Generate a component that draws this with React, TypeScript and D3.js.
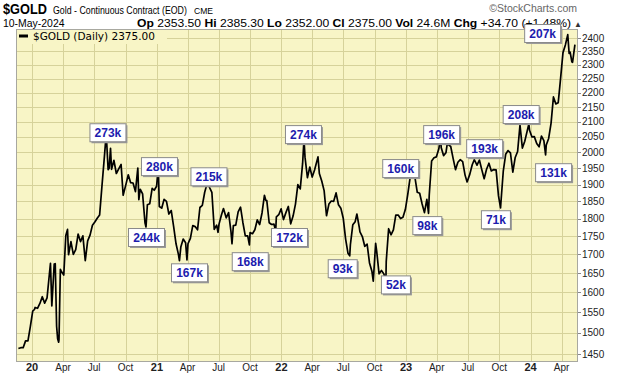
import React from 'react';
import * as d3 from 'd3';

const W = 620;
const H = 376;
const PLOT = { left: 16, right: 578, top: 29, bottom: 362 };

// Gold continuous contract closes
const goldDaily: [string, number][] = [
  ['2019-11-22', 1463], ['2019-11-29', 1465], ['2019-12-06', 1465], ['2019-12-13', 1481], ['2019-12-20', 1481], ['2019-12-27', 1515],
  ['2020-01-03', 1553], ['2020-01-08', 1557], ['2020-01-10', 1562], ['2020-01-17', 1560], ['2020-01-24', 1572], ['2020-01-31', 1589],
  ['2020-02-07', 1573], ['2020-02-14', 1586], ['2020-02-21', 1649], ['2020-02-24', 1676], ['2020-02-28', 1566], ['2020-03-06', 1674],
  ['2020-03-09', 1675], ['2020-03-13', 1516], ['2020-03-16', 1486], ['2020-03-19', 1478], ['2020-03-20', 1484], ['2020-03-24', 1660],
  ['2020-03-27', 1654], ['2020-04-03', 1645], ['2020-04-09', 1752], ['2020-04-14', 1769], ['2020-04-17', 1699], ['2020-04-24', 1735],
  ['2020-05-01', 1700], ['2020-05-08', 1713], ['2020-05-15', 1756], ['2020-05-22', 1735], ['2020-05-29', 1751], ['2020-06-05', 1683],
  ['2020-06-12', 1737], ['2020-06-19', 1753], ['2020-06-26', 1781], ['2020-07-03', 1790], ['2020-07-10', 1801], ['2020-07-17', 1810],
  ['2020-07-24', 1897], ['2020-07-31', 1986], ['2020-08-06', 2069], ['2020-08-07', 2028], ['2020-08-11', 1946], ['2020-08-14', 1950],
  ['2020-08-18', 2013], ['2020-08-21', 1947], ['2020-08-28', 1975], ['2020-09-04', 1934], ['2020-09-11', 1948], ['2020-09-18', 1962],
  ['2020-09-24', 1868], ['2020-10-02', 1900], ['2020-10-09', 1930], ['2020-10-16', 1906], ['2020-10-23', 1905], ['2020-10-30', 1879],
  ['2020-11-06', 1951], ['2020-11-09', 1855], ['2020-11-13', 1886], ['2020-11-20', 1872], ['2020-11-27', 1788], ['2020-11-30', 1776],
  ['2020-12-04', 1840], ['2020-12-11', 1843], ['2020-12-18', 1889], ['2020-12-24', 1883], ['2020-12-31', 1895],
  ['2021-01-05', 1954], ['2021-01-08', 1835], ['2021-01-15', 1830], ['2021-01-22', 1856], ['2021-01-29', 1850], ['2021-02-05', 1813],
  ['2021-02-12', 1823], ['2021-02-19', 1777], ['2021-02-26', 1729], ['2021-03-05', 1700], ['2021-03-08', 1683], ['2021-03-12', 1720],
  ['2021-03-19', 1742], ['2021-03-26', 1732], ['2021-03-30', 1685], ['2021-04-02', 1729], ['2021-04-09', 1744], ['2021-04-16', 1780],
  ['2021-04-23', 1777], ['2021-04-30', 1768], ['2021-05-07', 1832], ['2021-05-14', 1838], ['2021-05-21', 1877], ['2021-05-28', 1903],
  ['2021-06-01', 1905], ['2021-06-04', 1892], ['2021-06-11', 1877], ['2021-06-18', 1769], ['2021-06-25', 1781], ['2021-06-29', 1761],
  ['2021-07-02', 1784], ['2021-07-09', 1810], ['2021-07-15', 1829], ['2021-07-23', 1802], ['2021-07-30', 1817], ['2021-08-06', 1763],
  ['2021-08-09', 1729], ['2021-08-13', 1780], ['2021-08-20', 1781], ['2021-08-27', 1819], ['2021-09-03', 1833], ['2021-09-10', 1788],
  ['2021-09-17', 1751], ['2021-09-24', 1751], ['2021-09-29', 1726], ['2021-10-01', 1760], ['2021-10-08', 1757], ['2021-10-15', 1768],
  ['2021-10-22', 1796], ['2021-10-29', 1783], ['2021-11-05', 1816], ['2021-11-12', 1868], ['2021-11-16', 1853], ['2021-11-19', 1852],
  ['2021-11-26', 1788], ['2021-12-03', 1783], ['2021-12-10', 1784], ['2021-12-15', 1764], ['2021-12-17', 1805], ['2021-12-24', 1811],
  ['2021-12-31', 1828],
  ['2022-01-07', 1797], ['2022-01-14', 1817], ['2022-01-21', 1835], ['2022-01-28', 1785], ['2022-02-04', 1807], ['2022-02-11', 1842],
  ['2022-02-18', 1900], ['2022-02-25', 1887], ['2022-03-04', 1966], ['2022-03-08', 2043], ['2022-03-11', 1985], ['2022-03-18', 1921],
  ['2022-03-25', 1954], ['2022-04-01', 1923], ['2022-04-08', 1945], ['2022-04-18', 1986], ['2022-04-22', 1934], ['2022-04-29', 1911],
  ['2022-05-06', 1882], ['2022-05-13', 1808], ['2022-05-20', 1842], ['2022-05-27', 1851], ['2022-06-03', 1850], ['2022-06-10', 1875],
  ['2022-06-17', 1840], ['2022-06-24', 1830], ['2022-07-01', 1801], ['2022-07-08', 1742], ['2022-07-15', 1703], ['2022-07-20', 1696],
  ['2022-07-22', 1727], ['2022-07-29', 1782], ['2022-08-05', 1791], ['2022-08-10', 1813], ['2022-08-17', 1775], ['2022-08-19', 1762],
  ['2022-08-26', 1749], ['2022-09-02', 1722], ['2022-09-09', 1728], ['2022-09-16', 1677], ['2022-09-23', 1655], ['2022-09-27', 1629],
  ['2022-09-30', 1672], ['2022-10-04', 1730], ['2022-10-07', 1709], ['2022-10-14', 1648], ['2022-10-21', 1657], ['2022-10-28', 1648],
  ['2022-11-03', 1630], ['2022-11-04', 1681], ['2022-11-11', 1771], ['2022-11-18', 1754], ['2022-11-25', 1768], ['2022-12-02', 1810],
  ['2022-12-09', 1810], ['2022-12-16', 1800], ['2022-12-23', 1804], ['2022-12-30', 1826],
  ['2023-01-06', 1870], ['2023-01-13', 1921], ['2023-01-20', 1928], ['2023-01-26', 1930], ['2023-02-03', 1877], ['2023-02-10', 1874],
  ['2023-02-17', 1843], ['2023-02-24', 1817], ['2023-03-03', 1856], ['2023-03-08', 1815], ['2023-03-10', 1868], ['2023-03-17', 1973],
  ['2023-03-24', 1983], ['2023-03-31', 1986], ['2023-04-07', 2011], ['2023-04-13', 2055], ['2023-04-14', 2016], ['2023-04-21', 1990],
  ['2023-04-28', 1999], ['2023-05-03', 2037], ['2023-05-05', 2025], ['2023-05-12', 2019], ['2023-05-19', 1981], ['2023-05-26', 1946],
  ['2023-06-02', 1969], ['2023-06-09', 1977], ['2023-06-16', 1971], ['2023-06-23', 1929], ['2023-06-29', 1908], ['2023-07-07', 1932],
  ['2023-07-14', 1961], ['2023-07-20', 1977], ['2023-07-28', 1960], ['2023-08-04', 1976], ['2023-08-11', 1946], ['2023-08-18', 1918],
  ['2023-08-25', 1947], ['2023-09-01', 1966], ['2023-09-08', 1942], ['2023-09-15', 1946], ['2023-09-22', 1945], ['2023-09-29', 1866],
  ['2023-10-05', 1831], ['2023-10-06', 1845], ['2023-10-13', 1941], ['2023-10-20', 1994], ['2023-10-27', 2006], ['2023-11-03', 1999],
  ['2023-11-10', 1938], ['2023-11-17', 1984], ['2023-11-24', 2003], ['2023-12-01', 2089], ['2023-12-08', 2014], ['2023-12-15', 2036],
  ['2023-12-22', 2069], ['2023-12-27', 2093], ['2023-12-29', 2072],
  ['2024-01-05', 2050], ['2024-01-12', 2051], ['2024-01-19', 2029], ['2024-01-26', 2018], ['2024-02-02', 2053], ['2024-02-09', 2038],
  ['2024-02-14', 1992], ['2024-02-16', 2024], ['2024-02-23', 2045], ['2024-03-01', 2095], ['2024-03-08', 2185], ['2024-03-15', 2161],
  ['2024-03-22', 2165], ['2024-03-28', 2238], ['2024-04-05', 2345], ['2024-04-12', 2374], ['2024-04-19', 2413], ['2024-04-23', 2342],
  ['2024-04-26', 2347], ['2024-05-01', 2311], ['2024-05-03', 2309], ['2024-05-10', 2375],
];

const priceTicks = [1450, 1500, 1550, 1600, 1650, 1700, 1750, 1800, 1850, 1900, 1950, 2000, 2050, 2100, 2150, 2200, 2250, 2300, 2350, 2400];

const quarterDates = [
  '2020-01-01', '2020-04-01', '2020-07-01', '2020-10-01', '2021-01-01', '2021-04-01', '2021-07-01', '2021-10-01',
  '2022-01-01', '2022-04-01', '2022-07-01', '2022-10-01', '2023-01-01', '2023-04-01', '2023-07-01', '2023-10-01',
  '2024-01-01', '2024-04-01',
];
const quarterLabels = ['20', 'Apr', 'Jul', 'Oct', '21', 'Apr', 'Jul', 'Oct', '22', 'Apr', 'Jul', 'Oct', '23', 'Apr', 'Jul', 'Oct', '24', 'Apr'];

// Volume annotations
const noteText = ['273k', '280k', '215k', '244k', '167k', '168k', '172k', '274k', '93k', '52k', '160k', '98k', '196k', '193k', '71k', '208k', '131k', '207k'];
const noteDate = ['2020-08-09', '2021-01-07', '2021-06-01', '2020-11-30', '2021-04-05', '2021-09-30', '2022-01-23', '2022-03-05', '2022-06-28',
  '2022-12-01', '2022-12-15', '2023-03-03', '2023-04-14', '2023-08-18', '2023-09-20', '2023-12-03', '2024-03-07', '2024-02-04'];
const notePrice = [2036, 1929, 1898, 1773, 1676, 1706, 1773, 2030, 1687, 1644, 1923, 1807, 2030, 1985, 1824, 2096, 1966, 2385];
const noteSide = ['above', 'above', 'above', 'below', 'below', 'below', 'below', 'above', 'below', 'below', 'above', 'below', 'above', 'above', 'below', 'above', 'below', 'above'];

const parse = d3.timeParse('%Y-%m-%d');

export default function App() {
  const x = d3.scaleTime()
    .domain([parse('2019-11-15')!, parse('2024-05-19')!])
    .range([PLOT.left, PLOT.right]);
  const y = d3.scaleLog().domain([1432, 2435]).range([PLOT.bottom, PLOT.top]);

  const line = d3.line<[string, number]>()
    .x(d => x(parse(d[0])!))
    .y(d => y(d[1]));

  const bg = '#f8f5c6';
  const grid = '#d6d29a';
  const font = '"Liberation Sans", Arial, sans-serif';

  return (
    <svg width={W} height={H} style={{ position: 'absolute', left: 0, top: 0, background: '#fff' }}>
      <defs>
        <clipPath id="plotclip">
          <rect x={PLOT.left} y={PLOT.top} width={PLOT.right - PLOT.left} height={PLOT.bottom - PLOT.top} />
        </clipPath>
      </defs>
      {/* Header */}
      <text transform="translate(3,14) scale(0.85,1)" fontFamily={font} fontWeight="bold" fontSize={15}>$GOLD</text>
      <text transform="translate(53,14) scale(0.8,1)" fontFamily={font} fontSize={11}>Gold - Continuous Contract (EOD)</text>
      <text transform="translate(194,14) scale(0.9,1)" fontFamily={font} fontSize={9.5}>CME</text>
      <text x={577} y={12} fontFamily={font} fontSize={10.5} fill="#666" textAnchor="end">©StockCharts.com</text>
      <text transform="translate(3,27) scale(0.95,1)" fontFamily={font} fontSize={11}>10-May-2024</text>
      <text x={137} y={27} fontFamily={font} fontSize={11} textLength={434} lengthAdjust="spacingAndGlyphs">
        <tspan fontWeight="bold">Op</tspan> 2353.50 <tspan fontWeight="bold">Hi</tspan> 2385.30 <tspan fontWeight="bold">Lo</tspan> 2352.00 <tspan fontWeight="bold">Cl</tspan> 2375.00 <tspan fontWeight="bold">Vol</tspan> 24.6M <tspan fontWeight="bold">Chg</tspan> +34.70 (+1.48%)
      </text>
      <text x={574} y={27} fontFamily={font} fontSize={8} fill="#333">▲</text>

      {/* Plot background */}
      <rect x={PLOT.left} y={PLOT.top} width={PLOT.right - PLOT.left} height={PLOT.bottom - PLOT.top} fill={bg} />
      {/* Grid */}
      {priceTicks.map(p => (
        <line key={'h' + p} x1={PLOT.left} x2={PLOT.right} y1={Math.round(y(p)) + 0.5} y2={Math.round(y(p)) + 0.5} stroke={grid} strokeWidth={1} />
      ))}
      {quarterDates.map(d => {
        const xx = Math.round(x(parse(d)!)) + 0.5;
        return <line key={'v' + d} x1={xx} x2={xx} y1={PLOT.top} y2={PLOT.bottom} stroke={grid} strokeWidth={1} />;
      })}
      {/* Legend */}
      <rect x={PLOT.left + 1} y={PLOT.top + 1} width={150} height={14} fill={bg} />
      <line x1={19} x2={28} y1={36} y2={36} stroke="#000" strokeWidth={3} />
      <text x={33} y={40} fontFamily='"DejaVu Sans", Verdana, sans-serif' fontSize={10.5}>$GOLD (Daily) 2375.00</text>

      {/* Price line */}
      <path d={line(goldDaily) || ''} fill="none" stroke="#000" strokeWidth={1.7} strokeLinejoin="round" clipPath="url(#plotclip)" />

      {/* Plot frame */}
      <rect x={PLOT.left + 0.5} y={PLOT.top + 0.5} width={PLOT.right - PLOT.left - 1} height={PLOT.bottom - PLOT.top - 1} fill="none" stroke="#a8a8a0" />

      {/* Right axis */}
      {priceTicks.map(p => (
        <g key={'t' + p}>
          <line x1={PLOT.right} x2={PLOT.right + 3} y1={Math.round(y(p)) + 0.5} y2={Math.round(y(p)) + 0.5} stroke="#888" />
          <text x={PLOT.right + 4} y={y(p) + 3.5} fontFamily={font} fontSize={10} fill="#222">{p}</text>
        </g>
      ))}
      {/* Bottom axis */}
      {quarterDates.map((d, i) => {
        const isYear = /^\d+$/.test(quarterLabels[i]);
        return (
          <text key={'b' + d} x={x(parse(d)!)} y={371} textAnchor="middle" fontFamily={font} fontSize={isYear ? 11 : 10}
            fontWeight={isYear ? 'bold' : 'normal'} fill="#222">{quarterLabels[i]}</text>
        );
      })}

      {/* Volume notes */}
      {noteText.map((t, i) => {
        const cx = x(parse(noteDate[i])!);
        const w = t.length === 4 ? 36 : 29;
        const h = 18;
        const yy = y(notePrice[i]);
        const top = noteSide[i] === 'above' ? yy - h : yy;
        const left = cx - w / 2;
        return (
          <g key={'n' + i}>
            <rect x={left + 2} y={top + 2} width={w} height={h} fill="#9a9a9a" />
            <rect x={left + 0.5} y={top + 0.5} width={w} height={h} fill="#fff" stroke="#8a8a8a" />
            <text x={left + w / 2 + 0.5} y={top + 13.5} textAnchor="middle" fontFamily={font} fontWeight="bold" fontSize={12} fill="#1c1cae">{t}</text>
          </g>
        );
      })}
    </svg>
  );
}
